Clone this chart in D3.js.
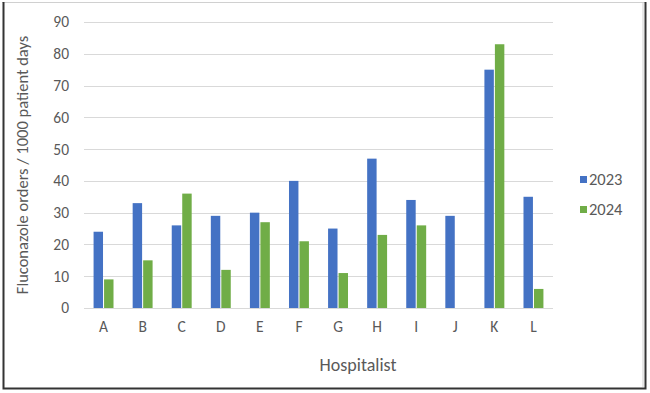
<!DOCTYPE html>
<html>
<head>
<meta charset="utf-8">
<script src="https://cdn.jsdelivr.net/npm/d3@7"></script>
<style>
  body { margin: 0; background: #fff; }
  svg text { font-family: Calibri, Carlito, Lato, sans-serif; fill: #595959; }
</style>
</head>
<body>
<div id="chart"></div>
<script>
// Chart data
const hospitalists = ["A", "B", "C", "D", "E", "F", "G", "H", "I", "J", "K", "L"];
const values2023 = [24, 33, 26, 29, 30, 40, 25, 47, 34, 29, 75, 35];
const values2024 = [9, 15, 36, 12, 27, 21, 11, 23, 26, null, 83, 6];
const seriesNames = ["2023", "2024"];
const yTicks = [0, 10, 20, 30, 40, 50, 60, 70, 80, 90];

const width = 650;
const height = 393;
const margin = { top: 22, right: 97, bottom: 85, left: 84 };

const svg = d3
  .select("#chart")
  .append("svg")
  .attr("width", width)
  .attr("height", height);

// Frame around the figure
svg.append("line").attr("x1", 2).attr("x2", 645).attr("y1", 2.5).attr("y2", 2.5)
  .attr("stroke", "#d0d0d0").attr("stroke-width", 1);
svg.append("line").attr("x1", 643).attr("x2", 643).attr("y1", 2).attr("y2", 387)
  .attr("stroke", "#d0d0d0").attr("stroke-width", 1);
svg.append("path")
  .attr("d", "M3.5,2 V388.5 H645.5 V2")
  .attr("fill", "none")
  .attr("stroke", "#333")
  .attr("stroke-width", 2);

const color = d3.scaleOrdinal().domain(seriesNames).range(["#4472C4", "#70AD47"]);

// Scales
const x = d3
  .scaleBand()
  .domain(hospitalists)
  .range([margin.left, width - margin.right])
  .paddingInner(0.49)
  .paddingOuter(0.245);

const xSub = d3
  .scaleBand()
  .domain(seriesNames)
  .range([0, x.bandwidth()])
  .paddingInner(0.1);

const y = d3
  .scaleLinear()
  .domain([0, 90])
  .range([height - margin.bottom, margin.top]);

// Gridlines
svg
  .append("g")
  .selectAll("line")
  .data(yTicks)
  .enter()
  .append("line")
  .attr("x1", margin.left)
  .attr("x2", width - margin.right)
  .attr("y1", (d) => Math.round(y(d)) + 0.5)
  .attr("y2", (d) => Math.round(y(d)) + 0.5)
  .attr("stroke", "#d9d9d9")
  .attr("stroke-width", 1);

// Y axis labels
svg
  .append("g")
  .attr("transform", `translate(${margin.left}, 0)`)
  .call(d3.axisLeft(y).tickValues(yTicks).tickSize(0).tickPadding(15))
  .call((g) => g.select(".domain").remove())
  .selectAll("text")
  .attr("font-size", "15.5px")
  .style("font-family", "Calibri, Carlito, Lato, sans-serif")
  .attr("fill", "#595959");

// X axis labels
svg
  .append("g")
  .attr("transform", `translate(0,${height - margin.bottom})`)
  .call(d3.axisBottom(x).tickSize(0).tickPadding(13))
  .call((g) => g.select(".domain").remove())
  .selectAll("text")
  .attr("font-size", "15.5px")
  .style("font-family", "Calibri, Carlito, Lato, sans-serif")
  .attr("fill", "#595959");

// Bars
const rows = hospitalists.map((h, i) => ({ name: h, "2023": values2023[i], "2024": values2024[i] }));

svg
  .append("g")
  .selectAll("g")
  .data(rows)
  .enter()
  .append("g")
  .attr("transform", (d) => `translate(${x(d.name)},0)`)
  .selectAll("rect")
  .data((d) => seriesNames.filter((k) => d[k] != null).map((k) => ({ key: k, value: d[k] })))
  .enter()
  .append("rect")
  .attr("x", (d) => xSub(d.key))
  .attr("y", (d) => y(d.value))
  .attr("width", xSub.bandwidth())
  .attr("height", (d) => y(0) - y(d.value))
  .attr("fill", (d) => color(d.key));

// Axis titles
svg
  .append("text")
  .attr("transform", `translate(28,${(y(0) + y(90)) / 2}) rotate(-90)`)
  .attr("text-anchor", "middle")
  .attr("font-size", "16.5px")
  .text("Fluconazole orders / 1000 patient days");

svg
  .append("text")
  .attr("x", 358)
  .attr("y", 371)
  .attr("text-anchor", "middle")
  .attr("font-size", "18px")
  .text("Hospitalist");

// Legend
const legend = svg
  .append("g")
  .selectAll("g")
  .data(seriesNames)
  .enter()
  .append("g")
  .attr("transform", (d, i) => `translate(580,${176 + i * 30})`);

legend
  .append("rect")
  .attr("width", 7)
  .attr("height", 7)
  .attr("fill", (d) => color(d));

legend
  .append("text")
  .attr("x", 9)
  .attr("y", 9)
  .attr("font-size", "16.5px")
  .text((d) => d);
</script>
</body>
</html>
